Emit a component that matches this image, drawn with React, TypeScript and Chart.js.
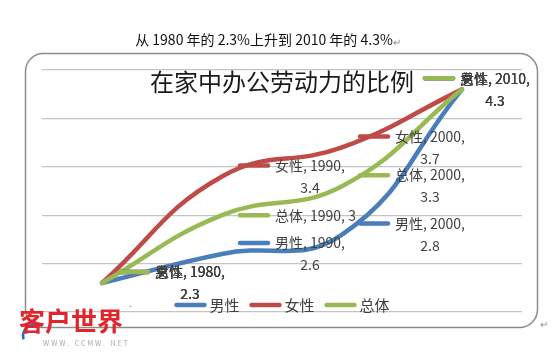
import React, { useEffect, useRef } from "react";
import { Chart, registerables } from "chart.js";

Chart.register(...registerables);

const years = [1980, 1990, 2000, 2010];
const seriesNames = ["男性", "女性", "总体"];
const maleValues = [2.3, 2.6, 2.8, 4.3];
const femaleValues = [2.3, 3.4, 3.7, 4.3];
const totalValues = [2.3, 3.0, 3.3, 4.3];
const yMin = 2.0;
const yMax = 4.5;
const yStep = 0.5;
const xMin = 1975;
const xMax = 2015;
const chartTitle = "在家中办公劳动力的比例";
const caption = "从 1980 年的 2.3%上升到 2010 年的 4.3%";
const watermark = "客户世界";
const watermarkUrl = "WWW. CCMW. NET";

const seriesValues = [maleValues, femaleValues, totalValues];
const colors = ["#4A7EBB", "#BE4B48", "#98B954"];
const FONT = '"Noto Sans CJK SC", "Noto Sans", sans-serif';

const framePlugin = {
  id: "frame",
  beforeDraw(chart: any) {
    const ctx = chart.ctx;
    ctx.save();
    ctx.fillStyle = "#ffffff";
    ctx.fillRect(0, 0, chart.width, chart.height);
    ctx.beginPath();
    (ctx as any).roundRect(25.5, 53.5, 512, 274, 18);
    ctx.strokeStyle = "#8C8C8C";
    ctx.lineWidth = 1.5;
    ctx.stroke();
    // caption above the chart
    ctx.font = `14px ${FONT}`;
    ctx.fillStyle = "#111111";
    ctx.textBaseline = "middle";
    ctx.textAlign = "left";
    const w = ctx.measureText(caption).width;
    const cx = 264 - w / 2;
    ctx.fillText(caption, cx, 40);
    ctx.font = `10px ${FONT}`;
    ctx.fillStyle = "#7F8FA8";
    ctx.fillText("↵", cx + w, 42);
    ctx.fillText("↵", 540, 324);
    ctx.restore();
  },
};

const titlePlugin = {
  id: "titleInside",
  beforeDatasetsDraw(chart: any) {
    const ctx = chart.ctx;
    const a = chart.chartArea;
    ctx.save();
    ctx.font = `24px ${FONT}`;
    ctx.fillStyle = "#1A1A1A";
    ctx.textAlign = "center";
    ctx.textBaseline = "middle";
    ctx.fillText(chartTitle, (a.left + a.right) / 2, a.top + 12);
    ctx.restore();
  },
};

const labelPlugin = {
  id: "pointLabels",
  afterDatasetsDraw(chart: any) {
    const ctx = chart.ctx;
    const drawOrder = [1, 0, 2];
    ctx.save();
    ctx.font = `14px ${FONT}`;
    ctx.textBaseline = "middle";
    const limit = chart.width - 30;
    drawOrder.forEach((di) => {
      const meta = chart.getDatasetMeta(di);
      const ds = chart.data.datasets[di];
      meta.data.forEach((pt: any, j: number) => {
        const v = ds.data[j].y;
        const yr = ds.data[j].x;
        const vs = String(v);
        const lines =
          vs.length <= 1
            ? [`${ds.label}, ${yr}, ${vs}`]
            : [`${ds.label}, ${yr},`, vs];
        const w1 = ctx.measureText(lines[0]).width;
        let keyX = pt.x + 18;
        let textX = pt.x + 53;
        if (textX + w1 > limit) {
          const s = textX + w1 - limit;
          keyX -= s;
          textX -= s;
        }
        const y1 = lines.length > 1 ? pt.y - 11 : pt.y;
        ctx.strokeStyle = ds.borderColor;
        ctx.lineWidth = 4.5;
        ctx.lineCap = "round";
        ctx.beginPath();
        ctx.moveTo(keyX, y1);
        ctx.lineTo(keyX + 28, y1);
        ctx.stroke();
        ctx.fillStyle = "#404040";
        ctx.textAlign = "left";
        ctx.fillText(lines[0], textX, y1);
        if (lines.length > 1) {
          ctx.textAlign = "center";
          ctx.fillText(lines[1], textX + w1 / 2, pt.y + 11);
        }
      });
    });
    ctx.restore();
  },
};

const legendPlugin = {
  id: "insideLegend",
  afterDraw(chart: any) {
    const ctx = chart.ctx;
    const a = chart.chartArea;
    ctx.save();
    ctx.font = `15px ${FONT}`;
    ctx.textBaseline = "middle";
    ctx.textAlign = "left";
    const keyW = 32;
    const gap = 3;
    const itemGap = 10;
    const items = chart.data.datasets.map((d: any) => ({
      label: d.label,
      color: d.borderColor,
      tw: ctx.measureText(d.label).width,
    }));
    const total =
      items.reduce((s: number, it: any) => s + keyW + gap + it.tw, 0) +
      itemGap * (items.length - 1);
    let x = (a.left + a.right) / 2 - total / 2;
    const y = a.bottom - 7;
    items.forEach((it: any) => {
      ctx.strokeStyle = it.color;
      ctx.lineWidth = 4.5;
      ctx.lineCap = "round";
      ctx.beginPath();
      ctx.moveTo(x + 2, y);
      ctx.lineTo(x + keyW - 2, y);
      ctx.stroke();
      ctx.fillStyle = "#404040";
      ctx.fillText(it.label, x + keyW + gap, y);
      x += keyW + gap + it.tw + itemGap;
    });
    ctx.restore();
  },
};

const watermarkPlugin = {
  id: "watermark",
  afterDraw(chart: any) {
    const ctx = chart.ctx;
    ctx.save();
    ctx.strokeStyle = "#2E6DB4";
    ctx.lineWidth = 2.5;
    ctx.beginPath();
    ctx.arc(34, 336, 11, Math.PI * 0.9, Math.PI * 1.6);
    ctx.stroke();
    ctx.font = `bold 26px ${FONT}`;
    ctx.fillStyle = "#E2252B";
    ctx.textBaseline = "middle";
    ctx.textAlign = "left";
    ctx.fillText(watermark, 19, 321);
    ctx.font = `6px ${FONT}`;
    ctx.fillStyle = "#B0B0B0";
    ctx.fillText("®", 129, 308);
    ctx.font = `7px ${FONT}`;
    ctx.fillStyle = "#A8A8A8";
    (ctx as any).letterSpacing = "2px";
    ctx.fillText(watermarkUrl, 43, 343);
    ctx.restore();
  },
};

export default function App() {
  const ref = useRef<HTMLCanvasElement | null>(null);
  useEffect(() => {
    const canvas = ref.current;
    if (!canvas) return;
    const datasets = seriesNames.map((name, i) => ({
      label: name,
      data: years.map((yr, j) => ({ x: yr, y: seriesValues[i][j] })),
      borderColor: colors[i],
      backgroundColor: colors[i],
      borderWidth: 4.5,
      borderCapStyle: "round" as const,
      pointRadius: 0,
      pointHoverRadius: 0,
      tension: 0.45,
      fill: false,
      order: [1, 2, 0][i],
    }));
    const chart = new Chart(canvas, {
      type: "line",
      data: { datasets },
      options: {
        responsive: false,
        animation: false,
        events: [],
        layout: { padding: { left: 42, right: 38, top: 70, bottom: 41 } },
        plugins: {
          legend: { display: false },
          title: { display: false },
          tooltip: { enabled: false },
        },
        scales: {
          x: { type: "linear", min: xMin, max: xMax, display: false },
          y: {
            type: "linear",
            min: yMin,
            max: yMax,
            ticks: { display: false, stepSize: yStep },
            grid: { color: "#C4C4C4", lineWidth: 1.2, drawTicks: false },
            border: { display: false },
          },
        },
      },
      plugins: [framePlugin, titlePlugin, labelPlugin, legendPlugin, watermarkPlugin],
    });
    return () => chart.destroy();
  }, []);
  return (
    <div style={{ position: "fixed", left: 0, top: 0, width: 560, height: 353, background: "#fff" }}>
      <canvas ref={ref} width={560} height={353} style={{ display: "block", width: 560, height: 353 }} />
    </div>
  );
}
